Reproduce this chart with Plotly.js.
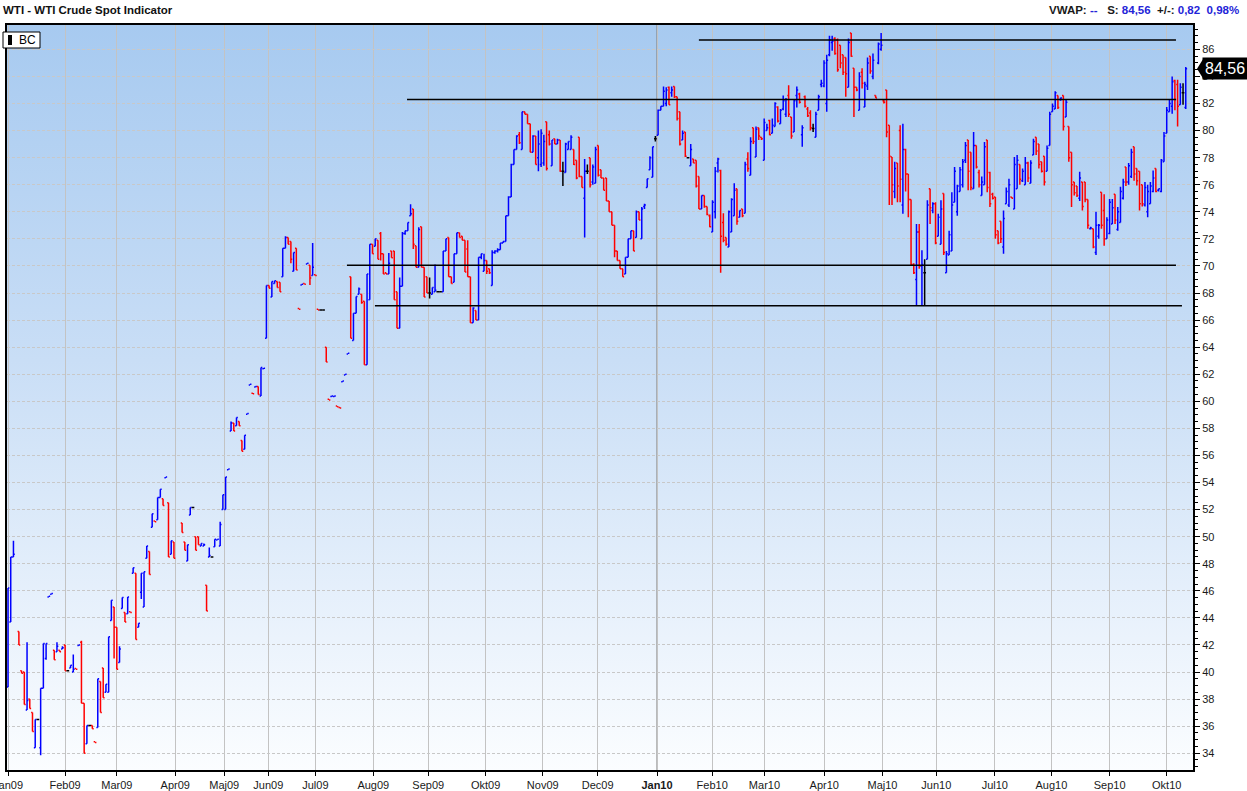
<!DOCTYPE html>
<html>
<head>
<meta charset="utf-8">
<script src="https://cdn.plot.ly/plotly-3.0.1.min.js"></script>
<style>
  html, body { margin: 0; padding: 0; background: #ffffff; overflow: hidden; }
  #wrap { position: relative; width: 1247px; height: 791px; }
  #bg { position: absolute; left: 7px; top: 25px; width: 1186px; height: 745px;
        background: linear-gradient(to bottom, #a7caf0 0%, #c9def6 45%, #fbfdff 100%); }
  #chart { position: absolute; left: 0; top: 0; width: 1247px; height: 791px; }
</style>
</head>
<body>
<div id="wrap"><div id="bg"></div><div id="chart"></div></div>
<script>
// ---- data (daily bars) ----
const openP = [
38.9,43.7,48.5,null,43.0,40.1,40.0,37.2,38.0,37.0,
34.4,36.5,34.4,38.8,41.0,45.55,45.75,41.6,41.5,41.6,
41.7,42.0,40.1,40.3,40.0,40.25,41.95,42.2,37.7,34.7,
36.05,36.05,34.85,35.9,39.3,40.3,38.5,38.5,43.8,44.8,
43.3,40.7,44.7,44.4,44.3,44.45,47.3,47.3,43.3,45.9,
44.8,48.4,48.9,50.7,51.15,51.25,52.9,52.8,54.35,52.5,
48.7,49.6,null,null,51.0,49.6,48.2,51.6,52.15,50.0,
50.0,49.3,49.3,46.4,48.5,48.5,49.25,49.75,49.3,52.0,
52.0,54.95,57.8,58.4,58.2,58.5,57.1,56.45,59.05,61.2,
60.6,61.05,61.1,60.4,62.4,64.65,68.55,67.7,68.7,68.85,
68.8,69.2,71.3,72.1,71.8,69.6,71.3,66.85,68.6,68.7,
70.15,70.05,69.3,69.35,66.8,66.75,66.75,64.0,60.15,60.35,
60.35,59.65,59.55,61.45,61.95,63.5,69.2,64.5,66.5,67.9,
67.9,67.4,62.7,67.5,71.6,71.45,71.9,72.4,70.9,69.5,
69.4,71.1,71.1,68.1,65.4,68.5,72.4,72.6,73.7,74.2,
71.5,69.9,72.9,69.9,69.2,68.0,67.9,68.1,68.1,68.1,
68.1,71.1,72.1,69.2,68.8,70.9,72.45,72.2,71.9,71.25,
69.2,65.8,66.7,66.0,70.65,69.6,70.4,69.8,68.55,71.0,
71.1,71.2,71.7,71.8,73.7,75.1,77.5,78.6,79.7,78.6,
81.4,81.2,80.5,78.4,79.6,78.0,77.5,77.6,80.65,79.7,
77.4,79.4,79.0,79.3,77.0,76.9,78.6,78.6,78.6,77.8,
79.5,76.6,75.0,77.0,78.0,76.2,76.1,78.9,77.1,76.5,
76.5,74.8,74.0,73.0,71.1,70.4,69.8,69.4,70.65,72.0,
72.6,72.1,74.0,72.0,74.4,75.8,77.1,76.55,79.4,79.65,
81.5,81.8,82.0,83.2,82.8,83.25,82.5,81.4,79.3,79.9,
78.0,77.4,77.9,77.8,76.6,74.2,75.2,74.4,73.7,72.5,
74.0,77.6,77.05,73.2,72.1,71.4,72.5,73.7,75.7,73.6,
74.2,73.9,77.9,76.7,80.2,78.05,80.2,79.5,77.8,80.0,
80.75,79.8,80.3,81.75,80.5,81.6,81.2,82.6,81.0,79.9,
82.6,82.7,79.7,82.5,81.6,81.3,80.15,79.5,81.5,83.4,
83.3,82.0,85.6,86.5,86.8,86.7,86.3,85.6,85.4,83.2,
87.2,84.6,83.2,81.5,84.3,81.75,83.3,85.5,84.0,82.6,
85.0,86.0,82.2,83.0,80.4,78.05,75.5,77.6,80.0,74.5,
78.6,76.8,74.9,70.1,69.0,72.5,70.0,69.5,70.5,75.7,
74.1,74.6,72.2,71.6,75.35,69.5,70.8,71.1,74.7,74.0,
75.5,76.0,77.8,79.3,78.4,75.7,78.9,76.9,75.2,76.0,
79.3,76.9,75.3,75.1,72.6,73.3,71.4,74.6,74.5,75.1,
74.2,75.7,77.5,76.3,76.0,77.6,76.1,78.2,79.5,79.0,
77.7,78.1,77.0,78.9,81.4,81.6,82.6,82.3,82.6,81.0,
80.3,78.4,76.2,75.9,75.0,76.2,76.2,74.9,72.75,72.75,
71.0,72.2,75.45,74.1,72.0,72.4,73.1,75.3,72.7,73.2,
75.0,77.3,76.2,76.6,78.8,77.2,77.0,76.0,74.5,74.0,
74.6,75.5,77.2,75.6,75.5,77.7,79.8,81.4,81.8,83.7,
83.4,81.9,82.8,81.7];

const highP = [
46.2,48.5,49.7,null,43.0,40.1,40.0,42.2,38.0,37.0,
36.5,36.5,38.8,42.1,42.1,45.6,45.8,41.6,42.2,41.6,
41.9,42.0,40.1,40.5,41.3,40.25,42.0,42.3,37.7,36.05,
36.05,36.05,34.85,39.5,39.3,40.3,39.1,42.6,45.3,44.8,
43.3,41.9,45.5,44.4,45.55,44.45,47.7,47.3,43.6,47.3,
47.4,49.3,48.9,51.7,51.15,52.9,53.5,52.8,54.4,52.5,
49.7,49.6,null,null,51.0,49.6,49.4,52.15,52.15,50.0,
50.0,49.5,49.5,46.4,49.2,48.5,49.8,49.8,51.1,53.1,
54.4,55.0,58.5,58.4,58.8,58.5,57.1,57.5,59.1,61.25,
60.6,61.1,61.1,62.5,62.45,68.55,68.55,68.85,68.9,68.85,
68.8,71.3,72.2,72.1,71.8,71.0,71.3,66.85,68.65,68.7,
70.2,70.05,71.7,69.35,66.8,66.75,66.75,64.0,60.15,60.4,
60.4,59.65,59.55,61.5,62.0,63.55,69.2,66.5,67.75,68.4,
67.9,67.4,69.4,71.6,71.6,72.0,71.9,72.5,70.9,69.5,
70.95,71.1,71.1,68.1,69.15,72.5,72.6,73.2,74.55,74.2,
71.5,72.85,72.9,69.9,69.2,69.15,68.4,70.1,68.1,68.1,
71.1,72.0,72.1,69.2,70.9,72.45,72.45,72.2,71.9,71.9,
69.2,66.95,66.7,70.65,70.9,70.9,70.4,69.8,71.15,71.15,
71.3,71.7,71.8,73.7,75.15,77.55,78.6,79.65,79.9,81.4,
81.4,81.2,80.5,79.65,79.6,80.0,80.1,79.7,80.65,80.0,
79.3,79.4,79.4,79.3,77.7,79.1,79.2,79.65,78.6,77.8,
79.5,76.6,77.9,77.5,78.0,77.5,78.8,78.9,77.1,76.5,
76.5,74.8,74.0,73.0,71.1,70.4,69.8,70.65,72.0,72.6,
72.6,74.1,74.0,74.35,74.6,76.45,78.1,78.8,79.6,81.55,
81.8,83.25,83.2,83.25,83.25,83.25,82.5,81.4,80.0,79.9,
78.0,79.0,77.9,77.8,76.6,75.2,75.2,74.4,73.8,74.85,
77.3,78.0,77.1,73.9,72.1,74.1,75.0,76.1,75.7,74.1,
74.2,77.7,78.4,79.5,80.2,80.3,80.2,79.5,80.9,80.5,
80.8,80.9,82.1,81.8,81.6,82.6,82.4,83.35,81.0,82.3,
83.25,82.8,80.4,82.6,81.75,81.5,80.5,81.4,82.65,83.75,
85.2,85.6,87.0,87.0,86.9,86.8,86.3,85.6,85.4,86.8,
87.2,84.6,83.2,84.3,84.6,83.6,85.4,85.5,85.7,82.6,
86.5,87.2,82.3,83.0,80.4,78.05,77.7,77.6,80.4,80.5,
78.65,76.8,74.9,70.2,73.1,73.1,71.15,70.5,74.85,75.7,
74.7,74.7,73.85,74.85,75.35,71.1,72.6,75.45,77.3,76.0,
77.3,77.9,79.15,79.3,78.4,79.9,78.9,77.1,76.6,79.15,
79.3,76.95,75.4,75.1,72.6,73.3,74.1,75.8,76.45,75.1,
78.05,78.2,77.5,77.2,78.05,77.7,77.8,79.4,79.5,79.0,
77.7,78.1,78.9,81.4,82.0,82.9,82.6,82.45,82.6,82.3,
80.3,78.4,76.2,75.9,76.95,76.2,76.2,74.9,72.9,72.75,
74.0,73.1,75.45,75.3,73.6,74.95,74.95,75.3,74.35,75.85,
76.45,77.3,77.6,78.65,78.8,77.2,77.0,76.0,76.2,76.0,
76.2,77.05,77.2,75.7,77.9,79.9,81.75,82.25,84.0,83.75,
83.75,83.5,83.5,84.7];

const lowP = [
38.9,43.7,48.5,null,42.0,39.9,37.6,37.2,37.3,35.6,
34.4,36.5,33.85,38.8,40.9,45.55,45.75,40.9,41.5,41.5,
41.7,40.1,40.1,40.3,40.0,40.2,41.95,37.7,34.0,34.7,
36.05,35.8,34.8,35.9,37.0,38.1,38.5,38.5,43.8,41.0,
40.2,40.7,44.7,43.7,44.3,44.4,47.3,42.4,43.3,45.4,
44.8,48.4,47.2,50.7,51.1,51.25,52.9,52.3,54.35,48.5,
48.7,48.4,null,null,50.3,49.0,48.2,51.6,52.15,49.0,
49.4,49.3,49.3,44.5,48.5,48.5,49.25,49.75,49.3,52.0,
52.0,54.95,57.8,57.8,58.2,58.2,56.3,56.45,59.05,61.2,
60.55,61.05,60.5,60.4,62.4,64.65,68.35,67.7,68.7,68.4,
68.1,69.2,71.3,71.6,70.2,69.6,69.7,66.8,68.6,68.65,
70.15,68.6,69.3,69.3,66.75,66.75,66.75,62.9,60.1,60.35,
60.35,59.6,59.5,61.45,61.95,63.5,64.65,64.5,66.5,67.9,
67.2,62.7,62.7,67.5,70.9,71.45,70.5,70.4,69.4,69.4,
69.4,70.6,67.5,65.4,65.4,68.5,72.3,72.6,73.7,71.25,
69.9,69.9,69.9,67.7,68.0,67.6,67.9,68.1,68.1,68.1,
68.1,71.1,69.2,68.7,68.8,70.9,72.1,71.9,69.55,69.2,
65.8,65.8,66.0,66.0,70.5,69.6,69.4,69.4,68.55,70.9,
71.0,71.2,71.7,71.8,73.7,75.1,77.5,78.6,79.0,78.6,
81.2,80.5,78.4,78.4,77.5,77.0,77.3,77.4,77.05,78.9,
77.4,79.0,79.0,76.95,75.9,76.9,78.6,78.6,77.45,76.4,
76.55,75.8,72.1,76.8,75.8,76.0,76.1,76.6,76.5,75.6,
74.8,74.0,73.0,70.65,70.4,69.8,69.2,69.4,70.65,72.0,
71.1,72.1,73.4,72.0,74.2,75.8,77.1,76.55,79.2,79.65,
81.5,81.8,81.8,81.9,82.5,82.4,80.75,78.9,79.3,78.05,
78.0,77.4,77.6,75.8,74.2,74.2,74.3,73.75,72.85,72.5,
73.5,76.9,69.5,71.75,71.5,71.4,72.5,73.7,73.05,73.6,
73.6,73.9,76.95,76.7,79.0,78.05,79.3,79.3,77.8,80.0,
79.65,79.8,80.3,80.6,80.5,81.5,81.0,81.0,79.4,79.9,
81.7,82.0,78.8,81.7,81.0,80.0,79.9,79.5,81.5,83.2,
83.2,81.4,85.5,85.9,85.6,84.35,84.6,84.1,82.5,83.2,
85.45,81.0,82.9,81.5,83.1,81.75,83.0,84.2,83.8,82.4,
84.9,85.9,82.0,79.5,74.5,74.5,75.0,74.7,74.7,73.85,
75.5,73.6,70.0,69.4,67.05,69.8,67.05,67.05,70.5,73.1,
73.9,71.6,72.2,71.6,70.8,69.5,70.8,71.1,74.7,73.7,
75.5,75.8,77.6,75.6,75.6,75.7,77.2,75.8,75.2,76.0,
75.45,74.35,74.9,72.0,71.6,71.7,70.9,74.6,74.35,75.0,
74.2,75.7,76.0,76.2,76.0,76.2,76.1,78.2,78.2,77.2,
76.9,75.95,77.0,78.9,81.4,81.6,81.6,82.2,80.0,81.0,
77.7,74.35,75.2,75.1,74.8,74.1,74.7,72.75,72.7,71.3,
70.8,72.0,72.75,71.5,72.0,72.35,73.1,73.1,72.6,73.2,
74.9,75.9,76.0,76.5,76.3,75.95,74.1,74.4,74.4,73.6,
74.6,75.45,75.45,75.5,75.45,77.7,79.8,81.4,81.25,81.5,
80.3,81.9,81.9,81.6];

const closeP = [
46.2,48.5,48.7,null,42.0,39.9,37.6,37.9,37.3,35.6,
36.5,36.5,38.8,42.1,42.1,45.6,45.8,40.9,41.9,41.5,
41.8,40.1,40.1,40.5,40.2,40.2,42.0,37.7,34.0,36.05,
36.05,35.8,34.8,39.5,37.0,38.1,39.1,42.6,45.3,43.3,
40.2,41.7,45.5,43.7,45.55,44.4,47.7,42.4,43.6,47.3,
47.4,49.3,47.2,51.7,51.1,52.9,53.5,52.3,54.4,48.5,
49.7,48.4,null,null,50.3,49.0,49.4,52.15,52.15,49.0,
49.4,49.5,49.4,44.5,48.6,48.5,49.8,49.8,50.9,53.1,
54.4,55.0,58.4,57.8,58.8,58.2,56.3,57.5,59.1,61.25,
60.55,61.1,60.5,62.5,62.45,68.55,68.35,68.85,68.9,68.4,
68.1,71.3,72.1,71.6,70.5,71.0,69.7,66.8,68.65,68.65,
70.2,69.1,69.9,69.3,66.75,66.75,66.75,62.9,60.1,60.4,
60.4,59.6,59.5,61.5,62.0,63.55,64.65,66.5,67.75,68.3,
67.3,62.7,69.4,71.6,70.9,72.0,70.5,70.9,69.4,69.4,
70.2,70.6,67.5,65.4,68.5,72.4,72.6,73.2,73.85,71.6,
69.9,72.7,69.9,67.7,68.0,68.0,68.4,68.2,68.1,68.1,
71.1,72.0,69.2,68.7,70.9,72.45,72.1,71.9,69.55,69.2,
65.8,66.9,66.0,70.65,70.9,70.4,69.6,69.5,71.0,71.1,
71.2,71.7,71.8,73.7,75.1,77.5,78.6,79.6,79.1,81.4,
81.2,80.5,78.4,79.6,77.5,79.0,79.8,79.2,77.2,79.0,
79.3,79.0,79.3,77.0,77.0,79.0,79.2,79.5,77.5,76.5,
76.6,75.8,77.0,77.0,76.0,77.3,78.6,76.7,76.5,75.6,
74.8,74.0,73.0,71.1,70.4,69.8,69.2,70.65,72.0,72.6,
71.1,74.0,73.4,74.2,74.5,76.45,78.0,78.8,79.4,81.5,
81.8,82.9,83.0,81.9,83.0,82.5,80.9,79.0,79.8,78.1,
78.0,78.6,77.6,75.9,74.2,75.2,74.4,73.8,72.9,74.7,
77.0,77.9,72.2,71.9,71.6,74.0,74.9,75.6,73.3,74.1,
73.7,77.5,77.2,79.2,79.2,80.1,79.6,79.4,80.6,80.2,
79.7,80.4,82.0,80.7,81.5,82.2,82.3,81.2,79.6,82.2,
83.0,82.1,80.2,81.8,81.1,80.2,80.15,81.2,82.5,83.5,
85.0,85.2,86.7,86.6,85.7,84.5,85.0,84.3,84.2,86.5,
85.5,83.2,83.0,84.0,83.5,83.4,85.0,84.4,85.2,82.4,
86.4,86.3,82.1,79.9,78.1,76.0,77.2,75.9,76.4,78.6,
76.8,74.9,70.1,69.5,72.5,70.0,70.1,69.5,74.5,74.3,
74.6,71.7,73.6,74.2,71.0,70.9,72.3,74.5,77.0,75.9,
77.1,77.7,78.9,77.0,75.8,78.9,77.3,76.0,76.2,78.8,
75.8,74.6,75.0,72.3,71.7,72.0,73.5,75.5,76.0,75.0,
77.5,77.8,76.4,77.0,77.6,76.5,77.6,79.2,78.5,77.5,
77.0,76.2,78.7,81.2,81.8,82.8,81.7,82.4,80.3,82.1,
78.0,76.0,75.4,75.2,76.5,74.4,74.9,73.0,72.8,71.4,
73.0,73.0,73.0,72.0,73.4,74.7,74.3,73.4,74.0,75.5,
76.2,76.2,77.4,78.4,76.8,76.3,74.6,74.6,75.8,75.5,
75.9,76.5,75.5,75.7,77.8,79.6,81.5,82.0,83.6,82.3,
81.8,83.2,82.8,84.56];

// month tick positions (bar index) and labels
const monthPos = [0,21,40,61.5,79.5,95.7,113,134.3,154.5,175.6,196.6,216.8,238.6,258.9,278.1,300.1,321.5,341.3,362.8,383.6,405,426];
const monthLbl = ['Jan09','Feb09','Mar09','Apr09','Maj09','Jun09','Jul09','Aug09','Sep09','Okt09','Nov09','Dec09','<b>Jan10</b>','Feb10','Mar10','Apr10','Maj10','Jun10','Jul10','Aug10','Sep10','Okt10'];

// drawn support / resistance lines
const lineLevel = [86.7, 82.3, 70.05, 67.05];
const lineFrom  = [254, 146.7, 124.6, 134.9];
const lineTo    = [429.4, 429.4, 429.4, 431.6];

const lastPrice = 84.56;

// ---- build traces ----
const n = closeP.length;
const xs = [];
for (let i = 0; i < n; i++) xs.push(i);

function subset(test) {
  const o = [], h = [], l = [], c = [];
  for (let i = 0; i < n; i++) {
    const ok = closeP[i] !== null && test(openP[i], closeP[i]);
    o.push(ok ? openP[i] : null); h.push(ok ? highP[i] : null);
    l.push(ok ? lowP[i] : null);  c.push(ok ? closeP[i] : null);
  }
  return {o, h, l, c};
}
function ohlcTrace(sub, color) {
  return {
    type: 'ohlc', x: xs, open: sub.o, high: sub.h, low: sub.l, close: sub.c,
    tickwidth: 0.5, hoverinfo: 'skip', showlegend: false,
    increasing: {line: {color: color, width: 1.5}},
    decreasing: {line: {color: color, width: 1.5}}
  };
}
const traces = [
  ohlcTrace(subset((o, c) => c > o), '#0000ff'),
  ohlcTrace(subset((o, c) => c < o), '#ff0000'),
  ohlcTrace(subset((o, c) => c === o), '#000000')
];
for (let k = 0; k < lineLevel.length; k++) {
  traces.push({type: 'scatter', mode: 'lines', x: [lineFrom[k], lineTo[k]],
    y: [lineLevel[k], lineLevel[k]], line: {color: '#000000', width: 1.5},
    hoverinfo: 'skip', showlegend: false});
}

const F = 'Liberation Sans, Arial, sans-serif';
const PL = 7, PR = 1193, PT = 25, PB = 770;
function px2paperX(p) { return (p - PL) / (PR - PL); }
function px2paperY(p) { return (PB - p) / (PB - PT); }
const blue = '#2424d8';
const nb = '\u00a0';

const layout = {
  width: 1247, height: 791,
  margin: {l: PL, r: 1247 - PR, t: PT, b: 791 - PB, pad: 0},
  paper_bgcolor: 'rgba(0,0,0,0)', plot_bgcolor: 'rgba(0,0,0,0)',
  showlegend: false, hovermode: false,
  font: {family: F, size: 11, color: '#1a1a1a'},
  title: {text: '<b>WTI - WTI Crude Spot Indicator</b>', x: 3 / 1247, xanchor: 'left',
          y: 1 - 10 / 791, yanchor: 'middle', font: {family: F, size: 11.5, color: '#111'}},
  xaxis: {
    type: 'linear', range: [-0.37, 435.66], fixedrange: true,
    rangeslider: {visible: false},
    tickmode: 'array', tickvals: monthPos, ticktext: monthLbl,
    ticklabeloverflow: 'allow',
    showgrid: true, gridcolor: '#c3c3c3', gridwidth: 1, zeroline: false,
    ticks: 'outside', ticklen: 4, tickwidth: 1, tickcolor: '#000',
    showline: true, linecolor: '#000', linewidth: 2, mirror: true,
    tickfont: {family: F, size: 11, color: '#1a1a1a'}
  },
  yaxis: {
    side: 'right', range: [32.76, 87.8], fixedrange: true,
    tick0: 0, dtick: 2, zeroline: false,
    showgrid: true, gridcolor: '#c8c8c8', gridwidth: 1, griddash: '3px,2px',
    ticks: 'outside', ticklen: 5, tickwidth: 1, tickcolor: '#000',
    minor: {dtick: 0.5, ticks: 'outside', ticklen: 3, tickcolor: '#000', showgrid: false},
    showline: true, linecolor: '#000', linewidth: 2, mirror: true,
    tickfont: {family: F, size: 11, color: '#1a1a1a'}
  },
  shapes: [
    {type: 'line', xref: 'x', yref: 'paper', x0: monthPos[12], x1: monthPos[12], y0: 0, y1: 1,
     line: {color: '#7a7a7a', width: 1}, layer: 'below'},
    {type: 'rect', xref: 'paper', yref: 'paper', x0: px2paperX(3), x1: px2paperX(40),
     y0: px2paperY(48), y1: px2paperY(32), fillcolor: '#ffffff', line: {color: '#000', width: 1}},
    {type: 'rect', xref: 'paper', yref: 'paper', x0: px2paperX(8), x1: px2paperX(12),
     y0: px2paperY(45), y1: px2paperY(35), fillcolor: '#000', line: {width: 0}},
    {type: 'path', xref: 'paper', yref: 'y', xsizemode: 'pixel', ysizemode: 'pixel',
     xanchor: 1, yanchor: lastPrice, path: 'M4,0 L10,9.5 L10,-9.5 Z',
     fillcolor: '#000', line: {width: 0}}
  ],
  annotations: [
    {xref: 'paper', yref: 'paper', x: px2paperX(17), y: px2paperY(40), xanchor: 'left', yanchor: 'middle',
     text: 'BC', showarrow: false, font: {family: F, size: 12, color: '#000'}},
    {xref: 'paper', yref: 'y', x: 1, xshift: 9, y: lastPrice, xanchor: 'left', yanchor: 'middle',
     text: '84,56', showarrow: false, bgcolor: '#000', borderpad: 2,
     font: {family: F, size: 16, color: '#fff'}},
    {xref: 'paper', yref: 'paper', x: px2paperX(1241), y: px2paperY(10), xanchor: 'right', yanchor: 'middle',
     showarrow: false, font: {family: F, size: 11.5, color: '#1a1a1a'},
     text: '<b>VWAP:' + nb + '<span style="color:' + blue + '">--</span>' + nb + nb + nb +
           'S:' + nb + '<span style="color:' + blue + '">84,56</span>' + nb + nb +
           '+/-:' + nb + '<span style="color:' + blue + '">0,82</span>' + nb + nb +
           '<span style="color:' + blue + '">0,98%</span></b>'}
  ]
};

Plotly.newPlot('chart', traces, layout, {displayModeBar: false, staticPlot: true});
</script>
</body>
</html>
